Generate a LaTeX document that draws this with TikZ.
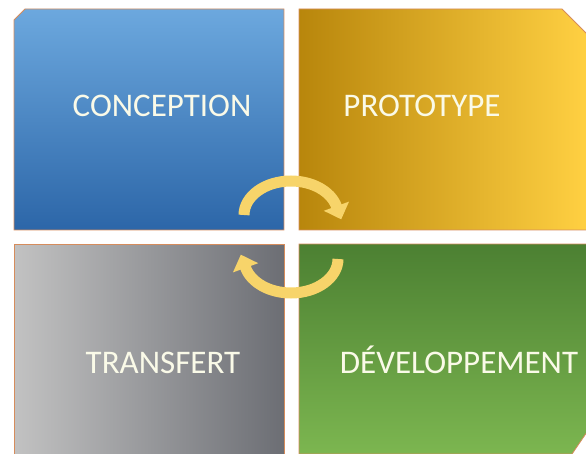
\documentclass[tikz,border=0pt]{standalone}
\usepackage{fontspec}
\setmainfont{Carlito}
\usetikzlibrary{arrows.meta}

\definecolor{bluetop}{RGB}{108,168,222}
\definecolor{bluebot}{RGB}{44,102,168}
\definecolor{goldleft}{RGB}{184,134,12}
\definecolor{goldmid}{RGB}{250,188,8}
\definecolor{goldright}{RGB}{255,208,66}
\definecolor{greyleft}{RGB}{194,194,194}
\definecolor{greyright}{RGB}{108,110,116}
\definecolor{greentop}{RGB}{76,128,50}
\definecolor{greenbot}{RGB}{124,182,80}
\definecolor{edgeorange}{RGB}{214,140,92}
\definecolor{arrowyellow}{RGB}{247,212,106}
\definecolor{textwhite}{RGB}{250,250,232}

\begin{document}
\begin{tikzpicture}[x=1pt,y=1pt,
    quad/.style={draw=edgeorange,line width=0.8pt},
    quadtext/.style={text=textwhite,font=\fontsize{33}{40}\selectfont,anchor=base,inner sep=0pt},
    cyclearrow/.style={draw=arrowyellow,line width=11pt,-{Triangle[width=26pt,length=14pt]}}]
  \useasboundingbox (0,0) rectangle (586,453);

  % the four quarters
  \shadedraw[quad,top color=bluetop,bottom color=bluebot]
    (14,433) -- (25,444) -- (284,444) -- (284,223) -- (14,223) -- cycle;
  \shadedraw[quad,left color=goldleft,middle color=goldmid,right color=goldright]
    (299,444) -- (562,444) -- (587,419) -- (587,223) -- (299,223) -- cycle;
  \shadedraw[quad,left color=greyleft,right color=greyright]
    (14,209) -- (284,209) -- (284,-1) -- (14,-1) -- cycle;
  \shadedraw[quad,top color=greentop,bottom color=greenbot]
    (299,209) -- (587,209) -- (587,21) -- (572,-1) -- (299,-1) -- cycle;

  \node[quadtext] (conception)    at (162,336) {CONCEPTION};
  \node[quadtext] (prototype)     at (422,336) {PROTOTYPE};
  \node[quadtext] (transfert)     at (163,80)  {TRANSFERT};
  \node[quadtext] (developpement) at (459,80)  {DÉVELOPPEMENT};

  % cycle arrows in the middle
  \coordinate (topstart) at (244,238);
  \coordinate (botstart) at (338,194);
  \draw[cyclearrow] (topstart) arc[start angle=180,end angle=15,x radius=47,y radius=34] -- ++(-70:14);
  \draw[cyclearrow] (botstart) arc[start angle=0,end angle=-165,x radius=47,y radius=34] -- ++(110:14);
\end{tikzpicture}
\end{document}
